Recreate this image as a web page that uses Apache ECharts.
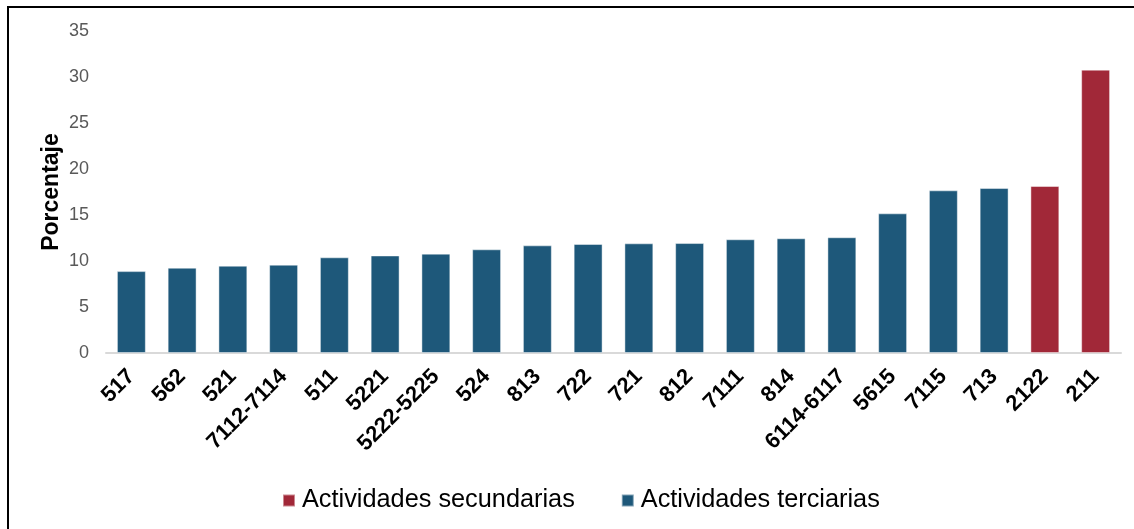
<!DOCTYPE html>
<html>
<head>
<meta charset="utf-8">
<script src="https://cdn.jsdelivr.net/npm/echarts@6/dist/echarts.min.js"></script>
<style>
html,body{margin:0;padding:0;background:#fff;}
#chart{width:1134px;height:529px;}
</style>
</head>
<body>
<div id="chart"></div>
<script>
const categories = ['517','562','521','7112-7114','511','5221','5222-5225','524','813','722','721','812','7111','814','6114-6117','5615','7115','713','2122','211'];
const terciarias = [8.9, 9.27, 9.49, 9.6, 10.4, 10.6, 10.8, 11.27, 11.7, 11.85, 11.92, 11.95, 12.36, 12.47, 12.58, 15.18, 17.68, 17.93, null, null];
const secundarias = [null, null, null, null, null, null, null, null, null, null, null, null, null, null, null, null, null, null, 18.15, 30.8];
const yTicks = [0, 5, 10, 15, 20, 25, 30, 35];
const seriesNames = ['Actividades secundarias', 'Actividades terciarias'];

const chart = echarts.init(document.getElementById('chart'), null, {renderer: 'canvas'});
const FONT = '"Liberation Sans", Arial, sans-serif';
chart.setOption({
  animation: false,
  backgroundColor: '#ffffff',
  graphic: [{
    type: 'rect',
    shape: {x: 8, y: 7, width: 1200, height: 600},
    style: {fill: 'none', stroke: '#000', lineWidth: 2},
    silent: true
  }],
  grid: {left: 106, right: 13, top: 31, bottom: 176},
  legend: {
    data: seriesNames,
    left: 282,
    top: 488,
    padding: 0,
    itemWidth: 12,
    itemHeight: 12,
    itemGap: 46,
    icon: 'rect',
    textStyle: {fontFamily: FONT, fontSize: 25.3, color: '#000', lineHeight: 25, padding: [0, 0, 0, 2]}
  },
  xAxis: {
    type: 'category',
    data: categories,
    axisLine: {lineStyle: {color: '#d9d9d9', width: 2}},
    axisTick: {show: false},
    axisLabel: {interval: 0, rotate: 45, margin: 20, fontFamily: FONT, fontSize: 22, fontWeight: 'bold', color: '#000'}
  },
  yAxis: {
    type: 'value',
    min: yTicks[0],
    max: yTicks[yTicks.length - 1],
    interval: yTicks[1] - yTicks[0],
    name: 'Porcentaje',
    nameLocation: 'middle',
    nameGap: 43,
    nameMoveOverlap: false,
    nameTextStyle: {fontFamily: FONT, fontSize: 23, fontWeight: 'bold', color: '#000'},
    axisLine: {show: false},
    axisTick: {show: false},
    splitLine: {show: false},
    axisLabel: {margin: 17, fontFamily: FONT, fontSize: 18, color: '#595959'}
  },
  series: [
    {
      name: seriesNames[0], type: 'bar', data: secundarias, barWidth: '57%', barGap: '-100%',
      itemStyle: {color: '#A12838', borderColor: 'rgba(255,255,255,0.45)', borderWidth: 1}
    },
    {
      name: seriesNames[1], type: 'bar', data: terciarias, barWidth: '57%', barGap: '-100%',
      itemStyle: {color: '#1E587A', borderColor: 'rgba(255,255,255,0.45)', borderWidth: 1}
    }
  ]
});
</script>
</body>
</html>
